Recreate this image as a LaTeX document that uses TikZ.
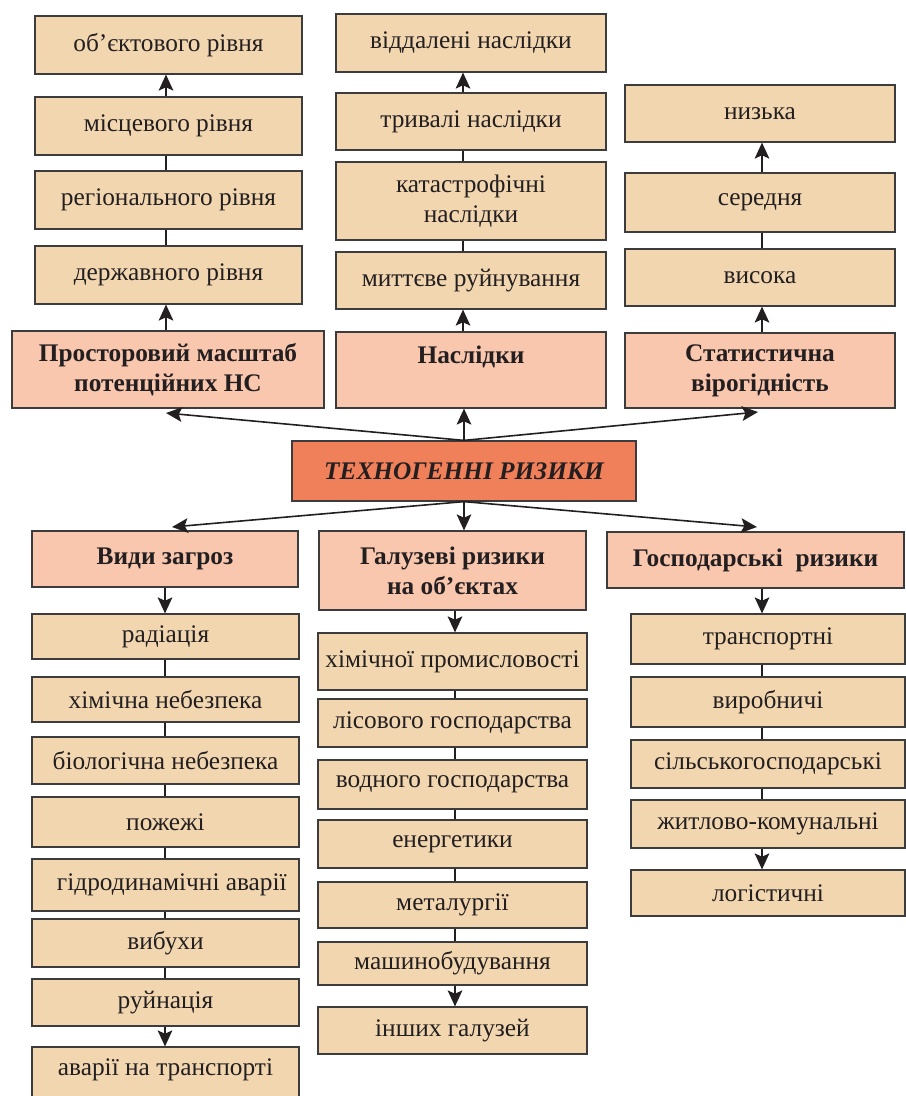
\documentclass[tikz,border=0pt]{standalone}
\usepackage{fontspec}
\setmainfont{Liberation Serif}
\usetikzlibrary{arrows.meta}
\definecolor{beige}{RGB}{241,214,176}
\definecolor{pinkh}{RGB}{249,198,174}
\definecolor{orangec}{RGB}{240,128,90}
\definecolor{edgec}{RGB}{60,60,60}
\definecolor{inkc}{RGB}{35,31,32}
% \mybox{name}{style}{x1}{y1}{x2}{y2}{text}  (pixel corners)
\newcommand\mybox[7]{%
  \pgfmathsetmacro\bw{0.75*(#5-#3)}%
  \pgfmathsetmacro\bh{0.75*(#6-#4)}%
  \node[#2, minimum width=\bw pt, minimum height=\bh pt] (#1) at ({(#3+#5)/2},{(#4+#6)/2}) {#7};}
\begin{document}
\begin{tikzpicture}[x=0.75pt,y=-0.75pt,
 box/.style={draw=edgec, line width=0.9pt, inner sep=0pt, align=center, text=inkc, font=\fontsize{19}{22.5}\selectfont},
 item/.style={box, fill=beige},
 head/.style={box, fill=pinkh, font=\fontsize{19}{22.5}\selectfont\bfseries},
 core/.style={box, fill=orangec, font=\fontsize{19}{22.5}\selectfont\bfseries\itshape},
 link/.style={draw=inkc, line width=1.2pt},
 arr/.style={link, -{Stealth[length=12pt,width=11pt,inset=2.5pt]}}]
\useasboundingbox (0,0) rectangle (906,1096);
\clip (0,0) rectangle (906,1096);
% top-left column
\mybox{A1}{item}{35}{16}{302}{74}{об'єктового рівня}
\mybox{A2}{item}{35}{97}{302}{155}{місцевого рівня}
\mybox{A3}{item}{35}{171}{302}{229}{регіонального рівня}
\mybox{A4}{item}{35}{246}{302}{304}{державного рівня}
\mybox{HA}{head}{12}{331}{324}{408}{Просторовий масштаб\\потенційних НС}
% top-middle column
\mybox{B1}{item}{336}{14}{606}{72}{віддалені наслідки}
\mybox{B2}{item}{336}{93}{606}{150}{тривалі наслідки}
\mybox{B3}{item}{336}{162}{606}{240}{катастрофічні\\наслідки}
\mybox{B4}{item}{336}{252}{606}{309}{миттєве руйнування}
\mybox{HB}{head}{336}{332}{606}{408}{Наслідки\\\phantom{X}}
% top-right column
\mybox{C1}{item}{625}{85}{895}{142}{низька}
\mybox{C2}{item}{625}{173}{895}{232}{середня}
\mybox{C3}{item}{625}{249}{895}{306}{висока}
\mybox{HC}{head}{625}{333}{895}{408}{Статистична\\вірогідність}
% center
\mybox{T}{core}{292}{441}{636}{501}{ТЕХНОГЕННІ РИЗИКИ}
% bottom headers
\mybox{HD}{head}{32}{531}{298}{587}{Види загроз}
\mybox{HE}{head}{319}{531}{586}{610}{Галузеві ризики\\на об’єктах}
\mybox{HF}{head}{607}{532}{904}{588}{Господарські\ \ ризики}
% left bottom column
\mybox{D1}{item}{32}{614}{299}{659}{радіація}
\mybox{D2}{item}{32}{677}{299}{722}{хімічна небезпека}
\mybox{D3}{item}{32}{737}{299}{784}{біологічна небезпека}
\mybox{D4}{item}{32}{797}{299}{847}{пожежі}
\mybox{D5}{item}{32}{859}{299}{911}{\ \ гідродинамічні аварії}
\mybox{D6}{item}{32}{919}{299}{967}{вибухи}
\mybox{D7}{item}{32}{979}{299}{1026}{руйнація}
\mybox{D8}{item}{32}{1047}{299}{1110}{\raisebox{17pt}{аварії на транспорті}}
% middle bottom column
\mybox{E1}{item}{318}{633}{587}{690}{хімічної промисловості}
\mybox{E2}{item}{318}{699}{587}{747}{лісового господарства}
\mybox{E3}{item}{318}{760}{587}{809}{водного господарства}
\mybox{E4}{item}{318}{820}{587}{868}{енергетики}
\mybox{E5}{item}{318}{882}{587}{928}{металургії}
\mybox{E6}{item}{318}{942}{587}{985}{машинобудування}
\mybox{E7}{item}{318}{1007}{587}{1054}{інших галузей}
% right bottom column
\mybox{F1}{item}{631}{614}{905}{664}{транспортні}
\mybox{F2}{item}{631}{677}{905}{727}{виробничі}
\mybox{F3}{item}{631}{740}{905}{788}{сільськогосподарські}
\mybox{F4}{item}{631}{800}{905}{848}{житлово-комунальні}
\mybox{F5}{item}{631}{870}{905}{916}{логістичні}
% column axes
\coordinate (ax) at (166,0);
\coordinate (bx) at (463,0);
\coordinate (cx) at (762,0);
\coordinate (dx) at (165,0);
\coordinate (ex) at (455,0);
\coordinate (fx) at (762,0);
\coordinate (tl) at (166,413);
\coordinate (tr) at (758,412);
\coordinate (bl) at (172,527);
\coordinate (br) at (757,527);
% top connectors
\draw[arr] (ax |- HA.north) -- (ax |- A4.south);
\draw[link] (ax |- A4.north) -- (ax |- A3.south);
\draw[link] (ax |- A3.north) -- (ax |- A2.south);
\draw[arr] (ax |- A2.north) -- (ax |- A1.south);
\draw[arr] (bx |- HB.north) -- (bx |- B4.south);
\draw[link] (bx |- B4.north) -- (bx |- B3.south);
\draw[link] (bx |- B3.north) -- (bx |- B2.south);
\draw[arr] (bx |- B2.north) -- (bx |- B1.south);
\draw[arr] (cx |- HC.north) -- (cx |- C3.south);
\draw[link] (cx |- C3.north) -- (cx |- C2.south);
\draw[arr] (cx |- C2.north) -- (cx |- C1.south);
% center connectors
\draw[arr] (T.north) -- (tl);
\draw[arr] (T.north) -- (T.north |- HB.south);
\draw[arr] (T.north) -- (tr);
\draw[arr] (T.south) -- (bl);
\draw[arr] (T.south) -- (T.south |- HE.north);
\draw[arr] (T.south) -- (br);
% bottom connectors
\draw[arr] (dx |- HD.south) -- (dx |- D1.north);
\foreach \a/\b in {D1/D2,D2/D3,D3/D4,D4/D5,D5/D6,D6/D7}
  \draw[link] (dx |- \a.south) -- (dx |- \b.north);
\draw[arr] (dx |- D7.south) -- (dx |- D8.north);
\draw[arr] (ex |- HE.south) -- (ex |- E1.north);
\foreach \a/\b in {E1/E2,E2/E3,E3/E4,E4/E5,E5/E6}
  \draw[link] (ex |- \a.south) -- (ex |- \b.north);
\draw[arr] (ex |- E6.south) -- (ex |- E7.north);
\draw[arr] (fx |- HF.south) -- (fx |- F1.north);
\foreach \a/\b in {F1/F2,F2/F3,F3/F4}
  \draw[link] (fx |- \a.south) -- (fx |- \b.north);
\draw[arr] (fx |- F4.south) -- (fx |- F5.north);
\end{tikzpicture}
\end{document}
